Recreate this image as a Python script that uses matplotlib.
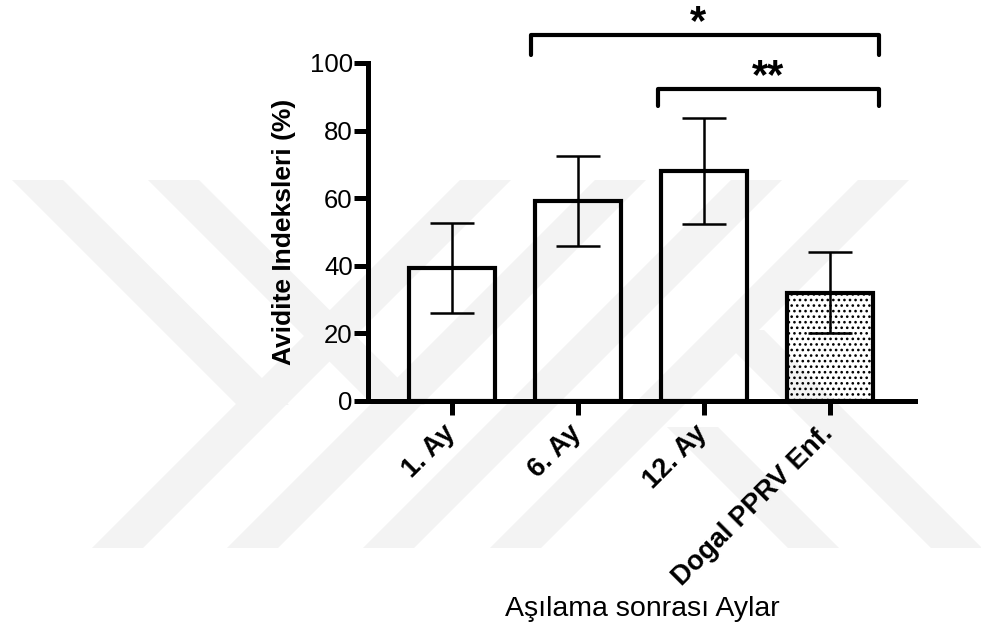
import matplotlib
matplotlib.use("Agg")
import matplotlib.pyplot as plt
import matplotlib.transforms as mtransforms
from matplotlib.patches import Polygon
import numpy as np

categories = ["1. Ay", "6. Ay", "12. Ay", "Dogal PPRV Enf."]
means = [39.4, 59.2, 68.1, 32.1]
errors = [13.4, 13.3, 15.6, 12.0]
yticks = [0, 20, 40, 60, 80, 100]
ylabel = "Avidite Indeksleri (%)"
xlabel = "Aşılama sonrası Aylar"
# significance brackets: (left x, right x, line y, tick bottom y, text, text x)
brackets = [(0.627, 3.39, 108.3, 102.4, "*", 1.95), (1.635, 3.39, 92.3, 87.3, "**", 2.51)]

plt.rcParams['font.family'] = ['Liberation Sans', 'DejaVu Sans']
plt.rcParams['hatch.linewidth'] = 1.1

W, H = 981, 628
fig = plt.figure(figsize=(9.81, 6.28), dpi=100)

# faint background watermark (decoration), in figure pixel coordinates
def px(pts):
    return [(xx / W, 1 - yy / H) for xx, yy in pts]

wm_color = '#f3f3f3'
top, mid, bot, bw = 180, 404, 548, 51
shapes = []
for xb in (92, 227, 363, 490):           # long "/" bands
    shapes.append([(xb, bot), (xb + bw, bot), (xb + bw + (bot - top), top), (xb + (bot - top), top)])
for xt in (12, 148):                     # "\" bands from the top meeting at mid
    shapes.append([(xt, top), (xt + bw, top), (xt + bw + (mid - top) + 2, mid + 1), (xt + (mid - top), mid)])
for xb2, ys in ((931, 330), (788, 427)):  # "\" bands on the right
    d = bot - ys
    shapes.append([(xb2 - d, ys), (xb2 - d + bw, ys), (xb2 + bw, bot), (xb2, bot)])
for s in shapes:
    fig.patches.append(Polygon(px(s), closed=True, facecolor=wm_color, edgecolor='none',
                               transform=fig.transFigure, zorder=-5))

ax = fig.add_axes([368/W, 1-401/H, (915-368)/W, (401-63)/H])
ax.set_facecolor('none')
ax.set_zorder(5)

x = np.arange(len(categories))
for i in range(len(categories)):
    hatch = '...' if i == 3 else None
    ax.bar(x[i], means[i], width=0.69, facecolor='none', edgecolor='black',
           linewidth=3.0, hatch=hatch, zorder=2)
ax.errorbar(x, means, yerr=errors, fmt='none', ecolor='black', elinewidth=1.8,
            capsize=16, capthick=1.8, zorder=3)

ax.set_xlim(-0.667, 3.675)
ax.set_ylim(0, 100)
ax.set_yticks(yticks)
ax.set_yticklabels([str(v) for v in yticks], fontsize=18.5)
ax.set_xticks(x)
ax.set_xticklabels([])
label_tr = ax.get_xaxis_transform() + mtransforms.ScaledTranslation(-10/100, -19/100, fig.dpi_scale_trans)
for xi, cat in zip(x, categories):
    ax.text(xi, 0, cat, transform=label_tr, fontsize=19.5, fontweight='bold',
            rotation=45, ha='right', va='top', rotation_mode='anchor', clip_on=False)

ax.tick_params(axis='y', length=10, width=3.6, pad=1)
ax.tick_params(axis='x', length=10, width=3.6, pad=6)
for s in ['top', 'right']:
    ax.spines[s].set_visible(False)
for s in ['left', 'bottom']:
    ax.spines[s].set_linewidth(3.6)
    ax.spines[s].set_capstyle('projecting')

ax.set_ylabel(ylabel, fontsize=19, fontweight='bold', labelpad=10)
fig.text(642/W, 1-609/H, xlabel, fontsize=20.5, ha='center', va='center', zorder=6)

for (x0, x1, yl, yb, txt, tx) in brackets:
    ax.plot([x0, x0, x1, x1], [yb, yl, yl, yb], color='black', lw=3,
            solid_capstyle='round', solid_joinstyle='round', clip_on=False)
    ax.text(tx, yl + 0.4, txt, fontsize=30, fontweight='bold',
            ha='center', va='baseline', clip_on=False)

fig.savefig("out.png", dpi=100)
